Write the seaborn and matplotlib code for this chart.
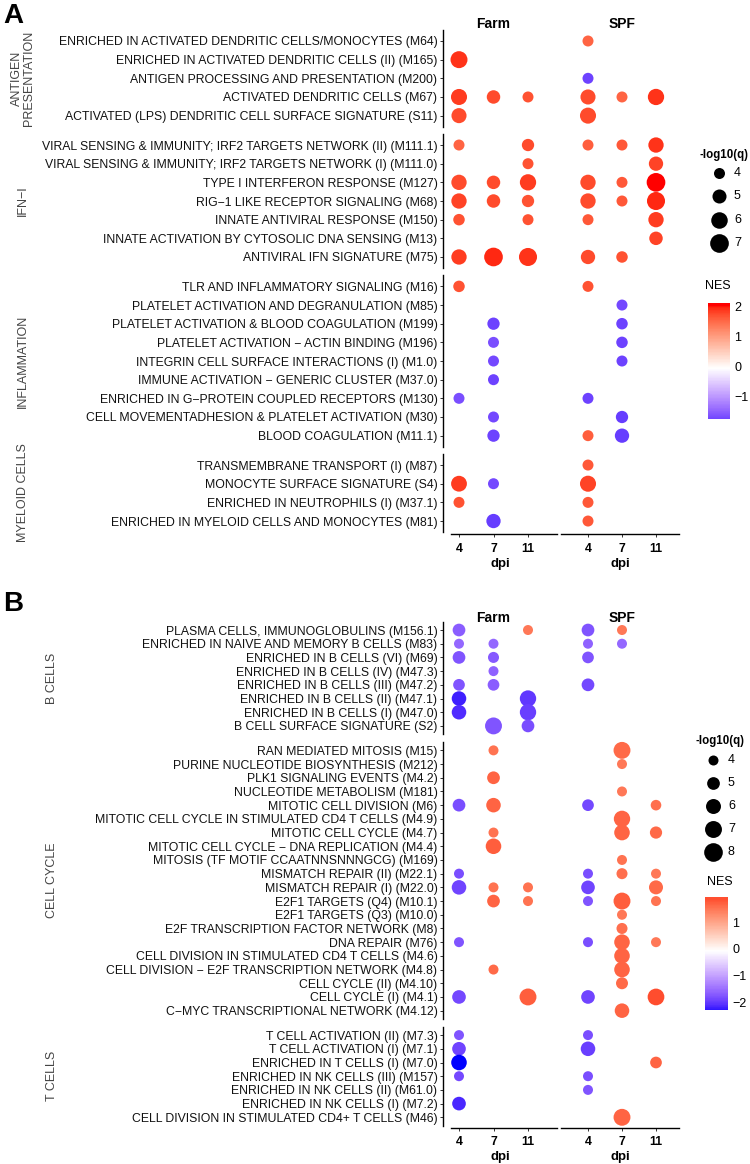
import numpy as np
import pandas as pd
import matplotlib
matplotlib.use("Agg")
import matplotlib.pyplot as plt
import matplotlib.colors as mcolors
import seaborn as sns

na = np.nan

cohorts = ["Farm", "SPF"]
dpi_levels = ["4", "7", "11"]

# ---- panel A ----
a_groups = ["ANTIGEN\nPRESENTATION", "IFN−I", "INFLAMMATION", "MYELOID CELLS"]
a_group_sizes = [5, 7, 9, 4]
a_modules = [
    "ENRICHED IN ACTIVATED DENDRITIC CELLS/MONOCYTES (M64)",
    "ENRICHED IN ACTIVATED DENDRITIC CELLS (II) (M165)",
    "ANTIGEN PROCESSING AND PRESENTATION (M200)",
    "ACTIVATED DENDRITIC CELLS (M67)",
    "ACTIVATED (LPS) DENDRITIC CELL SURFACE SIGNATURE (S11)",
    "VIRAL SENSING & IMMUNITY; IRF2 TARGETS NETWORK (II) (M111.1)",
    "VIRAL SENSING & IMMUNITY; IRF2 TARGETS NETWORK (I) (M111.0)",
    "TYPE I INTERFERON RESPONSE (M127)",
    "RIG−1 LIKE RECEPTOR SIGNALING (M68)",
    "INNATE ANTIVIRAL RESPONSE (M150)",
    "INNATE ACTIVATION BY CYTOSOLIC DNA SENSING (M13)",
    "ANTIVIRAL IFN SIGNATURE (M75)",
    "TLR AND INFLAMMATORY SIGNALING (M16)",
    "PLATELET ACTIVATION AND DEGRANULATION (M85)",
    "PLATELET ACTIVATION & BLOOD COAGULATION (M199)",
    "PLATELET ACTIVATION − ACTIN BINDING (M196)",
    "INTEGRIN CELL SURFACE INTERACTIONS (I) (M1.0)",
    "IMMUNE ACTIVATION − GENERIC CLUSTER (M37.0)",
    "ENRICHED IN G−PROTEIN COUPLED RECEPTORS (M130)",
    "CELL MOVEMENTADHESION & PLATELET ACTIVATION (M30)",
    "BLOOD COAGULATION (M11.1)",
    "TRANSMEMBRANE TRANSPORT (I) (M87)",
    "MONOCYTE SURFACE SIGNATURE (S4)",
    "ENRICHED IN NEUTROPHILS (I) (M37.1)",
    "ENRICHED IN MYELOID CELLS AND MONOCYTES (M81)",
]
# columns: Farm 4, Farm 7, Farm 11, SPF 4, SPF 7, SPF 11
a_nes = [
    [na, na, na, 1.6, na, na],
    [1.95, na, na, na, na, na],
    [na, na, na, -1.7, na, na],
    [1.9, 1.8, 1.75, 1.8, 1.6, 1.95],
    [1.8, na, na, 1.8, na, na],
    [1.6, na, 1.8, 1.65, 1.7, 1.95],
    [na, na, 1.75, na, na, 1.85],
    [1.8, 1.8, 1.9, 1.8, 1.7, 2.1],
    [1.85, 1.8, 1.75, 1.8, 1.7, 2.0],
    [1.75, na, 1.75, 1.7, na, 1.9],
    [na, na, na, na, na, 1.85],
    [1.9, 2.0, 1.95, 1.8, 1.75, na],
    [1.75, na, na, 1.75, na, na],
    [na, na, na, na, -1.65, na],
    [na, -1.7, na, na, -1.7, na],
    [na, -1.6, na, na, -1.7, na],
    [na, -1.65, na, na, -1.7, na],
    [na, -1.7, na, na, na, na],
    [-1.6, na, na, -1.7, na, na],
    [na, -1.65, na, na, -1.75, na],
    [na, -1.7, na, 1.65, -1.75, na],
    [na, na, na, 1.7, na, na],
    [1.9, -1.65, na, 1.85, na, na],
    [1.75, na, na, 1.7, na, na],
    [na, -1.75, na, 1.7, na, na],
]
a_logq = [
    [na, na, na, 3.5, na, na],
    [6.2, na, na, na, na, na],
    [na, na, na, 3.5, na, na],
    [5.8, 4.8, 3.9, 5.4, 3.05, 5.9],
    [5.4, na, na, 5.8, na, na],
    [3.05, na, 4.4, 3.4, 3.9, 5.5],
    [na, na, 3.4, na, na, 5.1],
    [5.5, 4.8, 5.9, 5.5, 3.9, 7.7],
    [5.5, 4.8, 4.4, 5.5, 3.6, 6.7],
    [4.15, na, 3.9, 3.4, na, 5.5],
    [na, na, na, na, na, 4.8],
    [5.5, 7.7, 6.7, 5.1, 4.15, na],
    [4.15, na, na, 3.9, na, na],
    [na, na, na, na, 3.4, na],
    [na, 4.4, na, na, 4.15, na],
    [na, 2.7, na, na, 4.15, na],
    [na, 3.0, na, na, 3.6, na],
    [na, 3.9, na, na, na, na],
    [3.0, na, na, 3.9, na, na],
    [na, 3.6, na, na, 4.4, na],
    [na, 4.4, na, 3.2, 5.1, na],
    [na, na, na, 3.25, na, na],
    [5.7, 3.3, na, 5.8, na, na],
    [3.9, na, na, 3.4, na, na],
    [na, 5.1, na, 3.7, na, na],
]
a_size_breaks = [4, 5, 6, 7]
a_nes_ticks = [2, 1, 0, -1]

# ---- panel B ----
b_groups = ["B CELLS", "CELL CYCLE", "T CELLS"]
b_group_sizes = [8, 20, 7]
b_modules = [
    "PLASMA CELLS, IMMUNOGLOBULINS (M156.1)",
    "ENRICHED IN NAIVE AND MEMORY B CELLS (M83)",
    "ENRICHED IN B CELLS (VI) (M69)",
    "ENRICHED IN B CELLS (IV) (M47.3)",
    "ENRICHED IN B CELLS (III) (M47.2)",
    "ENRICHED IN B CELLS (II) (M47.1)",
    "ENRICHED IN B CELLS (I) (M47.0)",
    "B CELL SURFACE SIGNATURE (S2)",
    "RAN MEDIATED MITOSIS (M15)",
    "PURINE NUCLEOTIDE BIOSYNTHESIS (M212)",
    "PLK1 SIGNALING EVENTS (M4.2)",
    "NUCLEOTIDE METABOLISM (M181)",
    "MITOTIC CELL DIVISION (M6)",
    "MITOTIC CELL CYCLE IN STIMULATED CD4 T CELLS (M4.9)",
    "MITOTIC CELL CYCLE (M4.7)",
    "MITOTIC CELL CYCLE − DNA REPLICATION (M4.4)",
    "MITOSIS (TF MOTIF CCAATNNSNNNGCG) (M169)",
    "MISMATCH REPAIR (II) (M22.1)",
    "MISMATCH REPAIR (I) (M22.0)",
    "E2F1 TARGETS (Q4) (M10.1)",
    "E2F1 TARGETS (Q3) (M10.0)",
    "E2F TRANSCRIPTION FACTOR NETWORK (M8)",
    "DNA REPAIR (M76)",
    "CELL DIVISION IN STIMULATED CD4 T CELLS (M4.6)",
    "CELL DIVISION − E2F TRANSCRIPTION NETWORK (M4.8)",
    "CELL CYCLE (II) (M4.10)",
    "CELL CYCLE (I) (M4.1)",
    "C−MYC TRANSCRIPTIONAL NETWORK (M4.12)",
    "T CELL ACTIVATION (II) (M7.3)",
    "T CELL ACTIVATION (I) (M7.1)",
    "ENRICHED IN T CELLS (I) (M7.0)",
    "ENRICHED IN NK CELLS (III) (M157)",
    "ENRICHED IN NK CELLS (II) (M61.0)",
    "ENRICHED IN NK CELLS (I) (M7.2)",
    "CELL DIVISION IN STIMULATED CD4+ T CELLS (M46)",
]
b_nes = [
    [-1.6, na, 1.55, -1.7, 1.55, na],
    [-1.5, -1.5, na, -1.55, -1.5, na],
    [-1.7, -1.65, na, -1.7, na, na],
    [na, -1.55, na, na, na, na],
    [-1.7, -1.6, na, -1.8, na, na],
    [-2.15, na, -1.95, na, na, na],
    [-2.05, na, -1.9, na, na, na],
    [na, -1.7, -1.75, na, na, na],
    [na, 1.6, na, na, 1.7, na],
    [na, na, na, na, 1.55, na],
    [na, 1.75, na, na, na, na],
    [na, na, na, na, 1.55, na],
    [-1.75, 1.75, na, -1.8, na, 1.65],
    [na, na, na, na, 1.75, na],
    [na, 1.6, na, na, 1.75, 1.7],
    [na, 1.8, na, na, na, na],
    [na, na, na, na, 1.6, na],
    [-1.75, na, na, -1.75, 1.65, 1.55],
    [-1.85, 1.6, 1.6, -1.85, na, 1.7],
    [na, 1.75, 1.6, -1.7, 1.8, 1.6],
    [na, na, na, na, 1.55, na],
    [na, na, na, na, 1.65, na],
    [-1.7, na, na, -1.75, 1.75, 1.55],
    [na, na, na, na, 1.75, na],
    [na, 1.7, na, na, 1.75, na],
    [na, na, na, na, 1.7, na],
    [-1.8, na, 1.8, -1.85, na, 1.95],
    [na, na, na, na, 1.75, na],
    [-1.7, na, na, -1.75, na, na],
    [-1.85, na, na, -1.9, na, na],
    [-2.3, na, na, na, na, 1.75],
    [-1.8, na, na, -1.75, na, na],
    [na, na, na, -1.7, na, na],
    [-2.1, na, na, na, na, na],
    [na, na, na, na, 1.75, na],
]
b_logq = [
    [5.0, na, 3.25, 5.0, 3.25, na],
    [2.7, 3.05, na, 3.05, 2.6, na],
    [5.0, 4.35, na, 4.6, na, na],
    [na, 3.05, na, na, na, na],
    [4.6, 4.6, na, 5.0, na, na],
    [5.8, na, 6.7, na, na, na],
    [5.8, na, 6.7, na, na, na],
    [na, 7.6, 5.0, na, na, na],
    [na, 3.05, na, na, 8.2, na],
    [na, na, na, na, 3.25, na],
    [na, 5.0, na, na, na, na],
    [na, na, na, na, 3.25, na],
    [5.0, 5.8, na, 4.6, na, 4.2],
    [na, na, na, na, 6.7, na],
    [na, 3.05, na, na, 6.3, 4.8],
    [na, 6.3, na, na, na, na],
    [na, na, na, na, 4.0, na],
    [4.0, na, na, 4.0, 4.35, 2.9],
    [5.8, 3.25, 3.7, 5.4, na, 5.55],
    [na, 5.0, 3.05, 3.05, 7.05, 3.4],
    [na, na, na, na, 3.25, na],
    [na, na, na, na, 4.35, na],
    [3.25, na, na, 3.7, 6.3, 2.9],
    [na, na, na, na, 6.3, na],
    [na, 4.0, na, na, 6.3, na],
    [na, na, na, na, 4.7, na],
    [5.4, na, 7.2, 5.4, na, 6.9],
    [na, na, na, na, 5.8, na],
    [3.25, na, na, 3.45, na, na],
    [5.4, na, na, 5.8, na, na],
    [6.3, na, na, na, na, 4.6],
    [3.7, na, na, 3.45, na, na],
    [na, na, na, 3.25, na, na],
    [5.4, na, na, na, na, na],
    [na, na, na, na, 7.2, na],
]
b_size_breaks = [4, 5, 6, 7, 8]
b_nes_ticks = [1, 0, -1, -2]


# ---- helpers ----
M_RGB2XYZ = np.array([[0.4124564, 0.3575761, 0.1804375],
                      [0.2126729, 0.7151522, 0.0721750],
                      [0.0193339, 0.1191920, 0.9503041]])
WHITE = np.array([0.95047, 1.0, 1.08883])


def rgb_to_lab(rgb):
    rgb = np.asarray(rgb, float)
    lin = np.where(rgb <= 0.04045, rgb / 12.92, ((rgb + 0.055) / 1.055) ** 2.4)
    t = (M_RGB2XYZ @ lin) / WHITE
    f = np.where(t > (6 / 29) ** 3, np.cbrt(t), t / (3 * (6 / 29) ** 2) + 4 / 29)
    return np.array([116 * f[1] - 16, 500 * (f[0] - f[1]), 200 * (f[1] - f[2])])


def lab_to_rgb(lab):
    fy = (lab[0] + 16) / 116
    f = np.array([fy + lab[1] / 500, fy, fy - lab[2] / 200])
    t = np.where(f > 6 / 29, f ** 3, 3 * (6 / 29) ** 2 * (f - 4 / 29))
    lin = np.clip(np.linalg.solve(M_RGB2XYZ, t * WHITE), 0, 1)
    return np.where(lin <= 0.0031308, 12.92 * lin, 1.055 * lin ** (1 / 2.4) - 0.055)


def gradient2(low="blue", mid="white", high="red", n=256):
    # like ggplot's scale_colour_gradient2: interpolation in Lab space
    labs = [rgb_to_lab(mcolors.to_rgb(c)) for c in (low, mid, high)]
    cols = []
    for t in np.linspace(0, 1, n):
        if t <= 0.5:
            f = t / 0.5
            lab = labs[0] * (1 - f) + labs[1] * f
        else:
            f = (t - 0.5) / 0.5
            lab = labs[1] * (1 - f) + labs[2] * f
        cols.append(np.clip(lab_to_rgb(lab), 0, 1))
    return mcolors.ListedColormap(cols)


def long_table(modules, group_sizes, nes, logq):
    rows = []
    idx = 0
    for g, n in enumerate(group_sizes):
        for r in range(n):
            for c in range(6):
                if not np.isnan(nes[idx][c]):
                    rows.append(dict(group=g, row=r, module=modules[idx],
                                     cohort=cohorts[c // 3], xpos=c % 3,
                                     NES=nes[idx][c], logq=logq[idx][c]))
            idx += 1
    return pd.DataFrame(rows)


sns.set_theme(style="white")
FONT = ["Liberation Sans", "DejaVu Sans"]
plt.rcParams["font.family"] = FONT
plt.rcParams["text.color"] = "black"
plt.rcParams["axes.labelcolor"] = "black"
plt.rcParams["xtick.color"] = "black"
plt.rcParams["ytick.color"] = "black"

W, H = 750, 1164
fig = plt.figure(figsize=(W / 100, H / 100), dpi=100)


def rect(x0, y0, x1, y1):
    return [x0 / W, 1 - y1 / H, (x1 - x0) / W, (y1 - y0) / H]


ov = fig.add_axes([0, 0, 1, 1])
ov.set_xlim(0, W)
ov.set_ylim(H, 0)
ov.axis("off")

# facet columns: left px, right px, px of first dpi, px per dpi step
COLS = {"Farm": (443, 557, 459, 34.5), "SPF": (561, 679, 588, 34.0)}
PT2 = 0.72 ** 2  # px^2 -> pt^2


def draw_panel(letter, letter_y, title_y, modules, groups, group_sizes, nes, logq,
               top, unit, gap, strip_x, area4, area_step, breaks,
               leg, nes_ticks, cbar):
    df = long_table(modules, group_sizes, nes, logq)
    vals = np.array(nes, float)
    lim = np.nanmax(np.abs(vals))
    norm = mcolors.Normalize(-lim, lim)
    cmap = gradient2()
    s_lo = area4 * PT2
    s_hi = (area4 + area_step * 3) * PT2

    ov.text(3, letter_y, letter, fontsize=20, fontweight="bold",
            ha="left", va="center")

    y = top
    start = 0
    for g, (gname, n) in enumerate(zip(groups, group_sizes)):
        h = (n + 0.2) * unit
        last = g == len(groups) - 1
        for cohort in cohorts:
            x0, x1, xd, xu = COLS[cohort]
            ax = fig.add_axes(rect(x0, y, x1, y + h))
            ax.patch.set_alpha(0)
            sub = df[(df.group == g) & (df.cohort == cohort)]
            if len(sub):
                sns.scatterplot(data=sub, x="xpos", y="row", hue="NES", size="logq",
                                palette=cmap, hue_norm=norm, sizes=(s_lo, s_hi),
                                size_norm=(4, 7), linewidth=0, edgecolor="none",
                                legend=False, ax=ax, clip_on=False)
            xmin = -(xd - x0) / xu
            xmax = 2 + (x1 - (xd + 2 * xu)) / xu
            ax.set_xlim(xmin, xmax)
            ax.set_ylim(n - 0.4, -0.6)
            ax.set_xlabel("")
            ax.set_ylabel("")
            for side in ["top", "right", "left", "bottom"]:
                ax.spines[side].set_visible(False)
            if cohort == "Farm":
                ax.spines["left"].set_visible(True)
                ax.spines["left"].set_color("black")
                ax.spines["left"].set_linewidth(1.0)
                ax.set_yticks(range(n), modules[start:start + n],
                              fontsize=8.8, color="#111111")
                ax.tick_params(axis="y", left=True, length=2.5, width=0.7,
                               color="#333333", pad=1.5)
            else:
                ax.set_yticks([])
            if g == 0:
                ax.text(1, -0.6 - (top - title_y) / unit, cohort, ha="center",
                        va="center", fontsize=10, fontweight="bold")
            if last:
                sp = ax.spines["bottom"]
                sp.set_visible(True)
                sp.set_color("black")
                sp.set_linewidth(1.0)
                sp.set_position(("outward", 1.5))
                left_px = 451 if cohort == "Farm" else x0
                sp.set_bounds((left_px - xd) / xu, xmax)
                ax.set_xticks([0, 1, 2], dpi_levels, fontweight="bold", fontsize=8.8)
                ax.tick_params(axis="x", bottom=True, length=2.5, width=0.7,
                               color="#333333", pad=3.5)
                ax.set_xlabel("dpi", fontweight="bold", fontsize=9.5, labelpad=2.5)
            else:
                ax.set_xticks([])
        ov.text(strip_x, y + h / 2, gname, rotation=90, ha="center", va="center",
                fontsize=9, color="#444444", linespacing=1.0)
        y += h + gap
        start += n

    # size legend
    lx, ly0, lstep, tx, ty = leg
    ov.text(tx, ty, "-log10(q)", fontsize=8.3, fontweight="bold",
            ha="left", va="center")
    for i, b in enumerate(breaks):
        s = s_lo + (b - 4) / 3 * (s_hi - s_lo)
        ov.scatter(lx, ly0 + i * lstep, s=s, color="black", linewidth=0)
        ov.text(lx + 15, ly0 + i * lstep, str(b), fontsize=9,
                ha="left", va="center")

    # colour bar
    cx0, cy0, cx1, cy1, ntx, nty = cbar
    ov.text(ntx, nty, "NES", fontsize=9, ha="center", va="center")
    cax = fig.add_axes(rect(cx0, cy0, cx1, cy1))
    sm = plt.cm.ScalarMappable(norm=norm, cmap=cmap)
    lo, hi = np.nanmin(vals), np.nanmax(vals)
    cb = fig.colorbar(sm, cax=cax, boundaries=np.linspace(lo, hi, 200))
    cb.outline.set_visible(False)
    cb.solids.set_edgecolor("face")
    cb.set_ticks(nes_ticks)
    cb.minorticks_off()
    cax.yaxis.set_ticks_position("both")
    cax.tick_params(axis="y", direction="in", length=4, width=0.8, color="white",
                    labelcolor="black", labelsize=9, labelleft=False,
                    labelright=True, pad=3)


draw_panel("A", 16, 24, a_modules, a_groups, a_group_sizes, a_nes, a_logq,
           top=29.8, unit=18.66, gap=7, strip_x=23,
           area4=121, area_step=76, breaks=a_size_breaks,
           leg=(719, 173, 23.3, 699, 155), nes_ticks=a_nes_ticks,
           cbar=(708, 303, 730, 419, 718, 286))

draw_panel("B", 604, 618, b_modules, b_groups, b_group_sizes, b_nes, b_logq,
           top=621.8, unit=13.7, gap=8, strip_x=52,
           area4=100, area_step=62, breaks=b_size_breaks,
           leg=(713, 760, 23.0, 696, 741), nes_ticks=b_nes_ticks,
           cbar=(705, 897, 728, 1010, 720, 882))

fig.savefig("out.png", dpi=100)
